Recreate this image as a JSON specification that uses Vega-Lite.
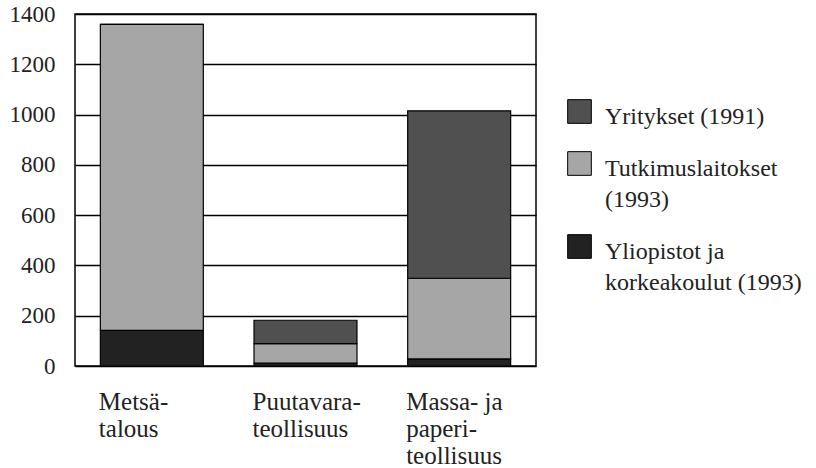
{
  "$schema": "https://vega.github.io/schema/vega-lite/v6.json",
  "autosize": {"type": "none"},
  "padding": {"left": 75, "top": 14, "right": 280, "bottom": 102},
  "width": 461,
  "height": 352,
  "background": "white",
  "config": {
    "font": "Liberation Serif",
    "view": {"stroke": "black", "strokeWidth": 1.5},
    "axis": {"labelFont": "Liberation Serif", "labelColor": "#222", "ticks": false, "domain": false, "title": null},
    "legend": {"labelFont": "Liberation Serif"}
  },
  "data": {
    "values": [
      {"sector": "Metsätalous", "group": "Yliopistot ja korkeakoulut (1993)", "rank": 1, "value": 142},
      {"sector": "Metsätalous", "group": "Tutkimuslaitokset (1993)", "rank": 2, "value": 1217},
      {"sector": "Metsätalous", "group": "Yritykset (1991)", "rank": 3, "value": 0},
      {"sector": "Puutavarateollisuus", "group": "Yliopistot ja korkeakoulut (1993)", "rank": 1, "value": 12},
      {"sector": "Puutavarateollisuus", "group": "Tutkimuslaitokset (1993)", "rank": 2, "value": 77},
      {"sector": "Puutavarateollisuus", "group": "Yritykset (1991)", "rank": 3, "value": 93},
      {"sector": "Massa- ja paperiteollisuus", "group": "Yliopistot ja korkeakoulut (1993)", "rank": 1, "value": 28},
      {"sector": "Massa- ja paperiteollisuus", "group": "Tutkimuslaitokset (1993)", "rank": 2, "value": 321},
      {"sector": "Massa- ja paperiteollisuus", "group": "Yritykset (1991)", "rank": 3, "value": 666}
    ]
  },
  "mark": {"type": "bar", "stroke": "black", "strokeWidth": 1.2},
  "encoding": {
    "x": {
      "field": "sector",
      "type": "nominal",
      "sort": ["Metsätalous", "Puutavarateollisuus", "Massa- ja paperiteollisuus"],
      "scale": {"paddingInner": 0.33, "paddingOuter": 0.165},
      "axis": {
        "labelAngle": 0,
        "labelAlign": "left",
        "labelBaseline": "alphabetic",
        "labelOffset": -53,
        "labelPadding": 43,
        "labelFontSize": 25,
        "labelLineHeight": 27,
        "labelExpr": "datum.label == 'Metsätalous' ? ['Metsä-', 'talous'] : datum.label == 'Puutavarateollisuus' ? ['Puutavara-', 'teollisuus'] : ['Massa- ja', 'paperi-', 'teollisuus']"
      }
    },
    "y": {
      "field": "value",
      "type": "quantitative",
      "stack": "zero",
      "scale": {"domain": [0, 1400], "nice": false},
      "axis": {
        "values": [0, 200, 400, 600, 800, 1000, 1200, 1400],
        "format": "d",
        "grid": true,
        "gridColor": "black",
        "gridWidth": 1.3,
        "gridOpacity": 1,
        "labelFontSize": 23,
        "labelPadding": 20,
        "labelBaseline": "middle"
      }
    },
    "color": {
      "field": "group",
      "type": "nominal",
      "scale": {
        "domain": ["Yritykset (1991)", "Tutkimuslaitokset (1993)", "Yliopistot ja korkeakoulut (1993)"],
        "range": ["#505050", "#a6a6a6", "#222222"]
      },
      "legend": {
        "title": null,
        "orient": "none",
        "legendX": 492,
        "legendY": 85,
        "symbolType": "square",
        "symbolSize": 560,
        "symbolStrokeColor": "black",
        "symbolStrokeWidth": 1,
        "symbolOpacity": 1,
        "labelFontSize": 24,
        "labelColor": "#222",
        "labelBaseline": "middle",
        "labelOffset": 13,
        "rowPadding": 20,
        "labelLimit": 300,
        "labelExpr": "datum.label == 'Tutkimuslaitokset (1993)' ? ['Tutkimuslaitokset', '(1993)'] : datum.label == 'Yliopistot ja korkeakoulut (1993)' ? ['Yliopistot ja', 'korkeakoulut (1993)'] : datum.label",
        "encode": {"labels": {"update": {"lineHeight": {"value": 31}, "dy": {"value": 5}}}}
      }
    },
    "order": {"field": "rank", "type": "quantitative"}
  }
}
